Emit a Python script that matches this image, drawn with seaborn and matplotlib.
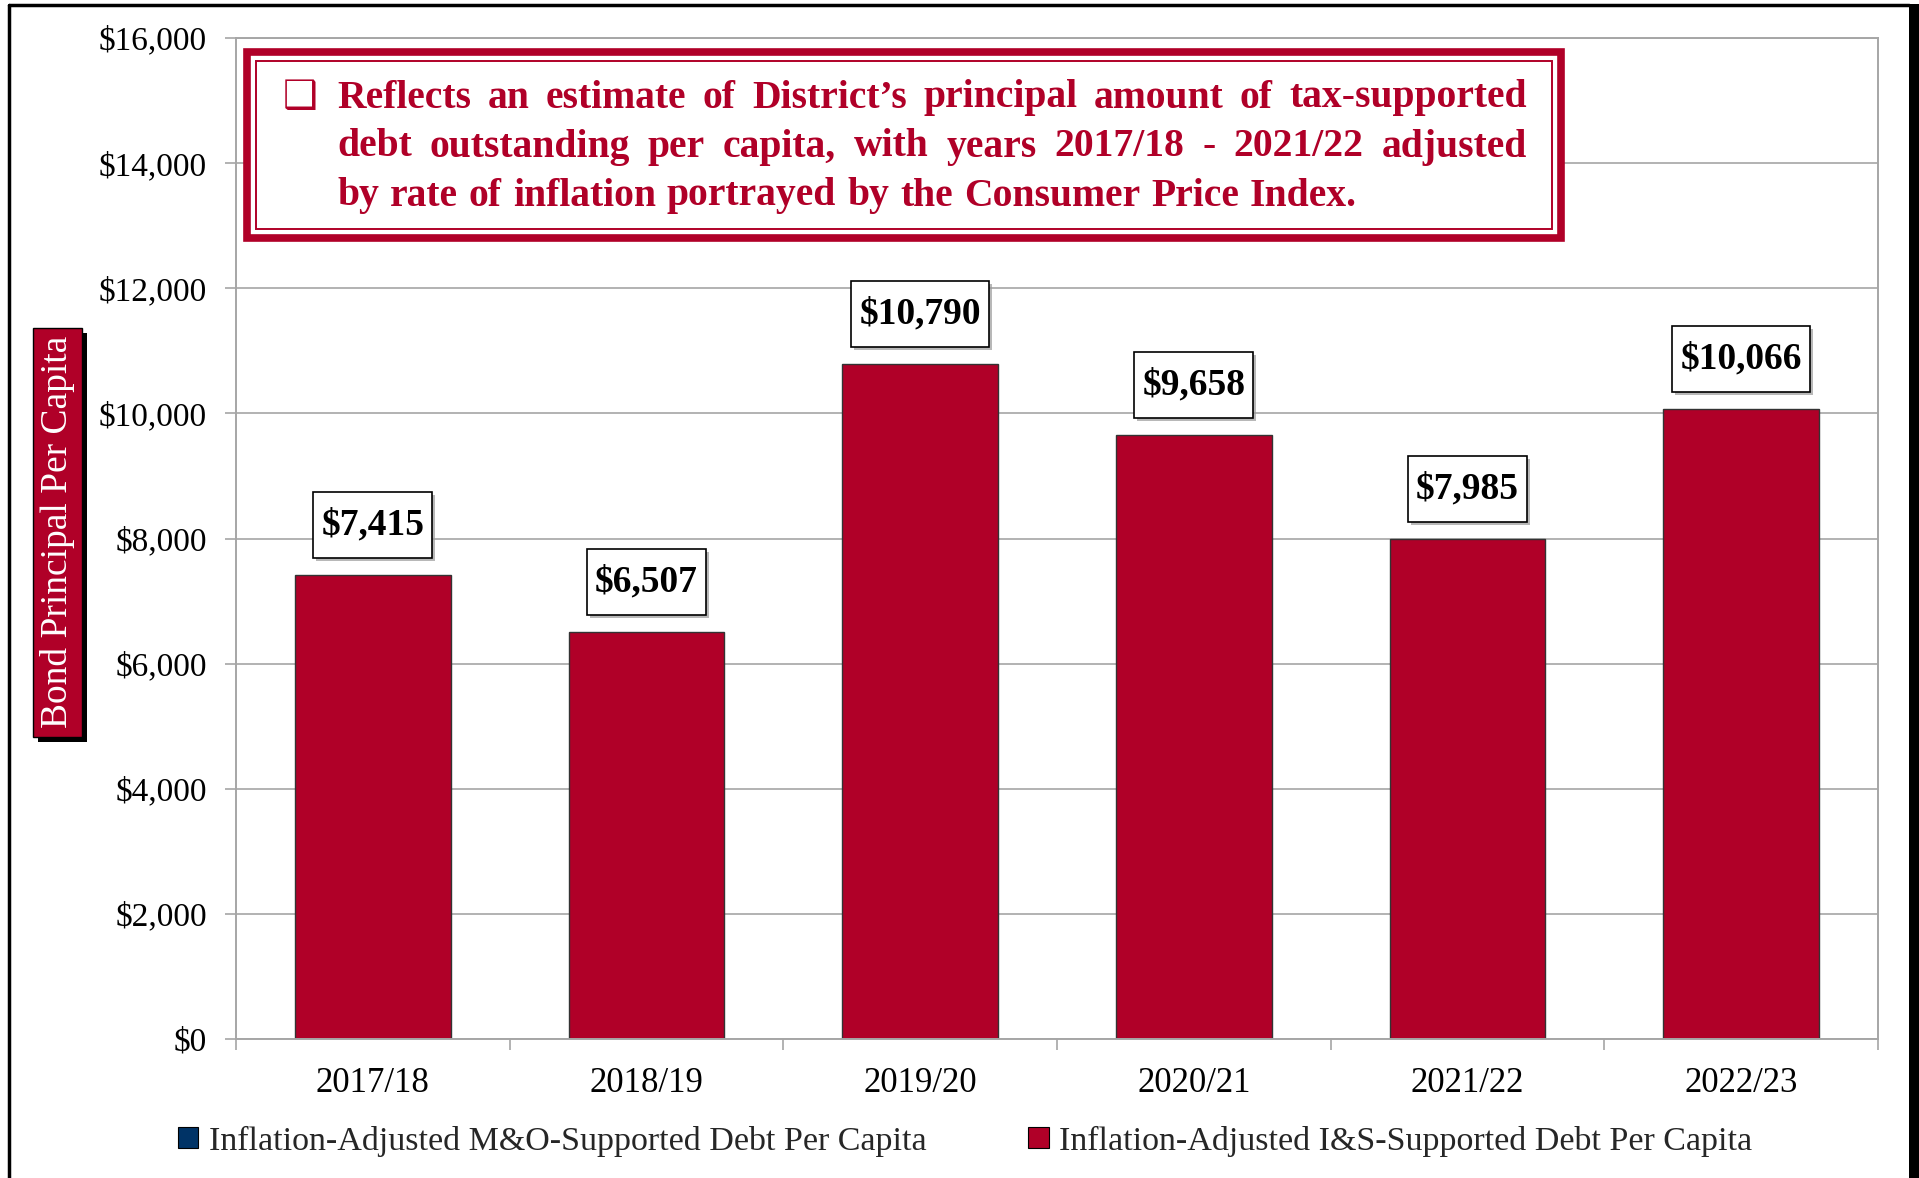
import pandas as pd
import matplotlib.pyplot as plt
import seaborn as sns
from matplotlib.patches import Rectangle, Patch
from matplotlib.lines import Line2D
from matplotlib.ticker import FuncFormatter

# data
years = ["2017/18", "2018/19", "2019/20", "2020/21", "2021/22", "2022/23"]
is_debt = [7415, 6507, 10790, 9658, 7985, 10066]
mo_debt = [0, 0, 0, 0, 0, 0]
series_names = ["Inflation-Adjusted M&O-Supported Debt Per Capita",
                "Inflation-Adjusted I&S-Supported Debt Per Capita"]
note_lines = [
    "Reflects an estimate of District\u2019s principal amount of tax-supported",
    "debt outstanding per capita, with years 2017/18 - 2021/22 adjusted",
    "by rate of inflation portrayed by the Consumer Price Index.",
]
ylabel = "Bond Principal Per Capita"

RED = "#B00028"
NAVY = "#003366"
GRID = "#A6A6A6"

df = pd.DataFrame({"year": years, "is_debt": is_debt, "mo_debt": mo_debt})

sns.set_style("white")
plt.rcParams["font.family"] = ["Liberation Serif", "DejaVu Sans"]

W, H = 1919, 1178
fig = plt.figure(figsize=(W / 100, H / 100), dpi=100)


def fx(px):
    return px / W


def fy(py):
    return 1 - py / H


ax = fig.add_axes([fx(236), fy(1039), fx(1878) - fx(236), fy(38) - fy(1039)])

sns.barplot(data=df, x="year", y="is_debt", color=RED, saturation=1,
            width=0.57, edgecolor="#333333", linewidth=1.0, ax=ax)

ax.set_ylim(0, 16000)
ax.set_xlim(-0.5, len(years) - 0.5)
ax.set_yticks(range(0, 16001, 2000))
ax.yaxis.set_major_formatter(FuncFormatter(lambda v, p: f"${v:,.0f}"))
ax.set_xlabel("")
ax.set_ylabel("")
ax.grid(axis="y", color=GRID, linewidth=1.2)
ax.set_axisbelow(True)
for s in ax.spines.values():
    s.set_color(GRID)
    s.set_linewidth(1.4)
ax.tick_params(axis="y", direction="out", length=8, width=1.2, color=GRID,
               pad=13, labelsize=24, labelcolor="black", left=True)
ax.set_xticks(range(len(years)))
ax.set_xticklabels(years)
ax.tick_params(axis="x", which="major", length=0, pad=20, labelsize=25,
               labelcolor="black")
ax.set_xticks([i - 0.5 for i in range(len(years) + 1)], minor=True)
ax.tick_params(axis="x", which="minor", direction="out", length=8,
               width=1.2, color=GRID, bottom=True)

renderer = fig.canvas.get_renderer()

# value labels in white boxes with a soft shadow
for i, v in enumerate(is_debt):
    t = ax.annotate(f"${v:,}", (i, v), xytext=(0, 50), textcoords="offset pixels",
                    ha="center", va="center", fontsize=27, fontweight="bold",
                    color="black", zorder=6)
    bb = t.get_window_extent(renderer)
    cx, cy = (bb.x0 + bb.x1) / 2, (bb.y0 + bb.y1) / 2
    bw, bh = bb.width + 16, 66
    fig.patches.append(Rectangle(((cx - bw / 2 + 3) / W, (cy - bh / 2 - 3) / H), bw / W, bh / H,
                                 transform=fig.transFigure, fc="#9A9A9A", ec="none",
                                 alpha=0.7, zorder=4))
    fig.patches.append(Rectangle(((cx - bw / 2) / W, (cy - bh / 2) / H), bw / W, bh / H,
                                 transform=fig.transFigure, fc="white", ec="black",
                                 lw=1.2, zorder=5))
    t.remove()
    fig.text(cx / W, cy / H, f"${v:,}", ha="center", va="center", fontsize=27,
             fontweight="bold", color="black", zorder=6)

# note box with double border
fig.patches.append(Rectangle((fx(247), fy(238)), fx(1561) - fx(247), fy(52) - fy(238),
                             transform=fig.transFigure, fill=True, fc="white",
                             ec=RED, lw=5.5, zorder=3))
fig.patches.append(Rectangle((fx(256), fy(229)), fx(1552) - fx(256), fy(61) - fy(229),
                             transform=fig.transFigure, fill=False,
                             ec=RED, lw=1.4, zorder=3))
fig.text(fx(283), fy(97), "\u2751", fontsize=28, color=RED, va="center",
         ha="left", family=["DejaVu Sans"], zorder=4)

x0, x1 = 337, 1527
line_y = [98, 147, 196]
for k, line in enumerate(note_lines):
    words = line.split(" ")
    texts = [fig.text(0, fy(line_y[k]), w, fontsize=28.5, fontweight="bold",
                      color=RED, va="center", ha="left", zorder=4) for w in words]
    widths = [t.get_window_extent(renderer).width for t in texts]
    if k < len(note_lines) - 1:
        gap = (x1 - x0 - sum(widths)) / (len(words) - 1)
    else:
        gap = 11
    x = x0
    for t, w in zip(texts, widths):
        t.set_x(fx(x))
        x += w + gap

# y-axis label box with shadow
fig.patches.append(Rectangle((fx(38), fy(742)), fx(87) - fx(38), fy(333) - fy(742),
                             transform=fig.transFigure, fc="black", ec="none", zorder=2))
fig.patches.append(Rectangle((fx(33), fy(737)), fx(82) - fx(33), fy(328) - fy(737),
                             transform=fig.transFigure, fc=RED, ec="black", lw=1, zorder=3))
fig.text(fx(57.5), fy(532), ylabel, rotation=90, color="white", fontsize=27,
         ha="center", va="center", zorder=4)

# legend
handles = [Patch(fc=NAVY, ec="black", lw=0.8), Patch(fc=RED, ec="black", lw=0.8)]
fig.legend(handles, series_names, loc="center", bbox_to_anchor=(fx(965), fy(1141)),
           ncol=2, frameon=False, fontsize=24.5, handlelength=0.6, handleheight=0.6,
           handletextpad=0.3, columnspacing=3.0)

# outer frame
fig.lines.append(Line2D([fx(9), fx(1909)], [fy(5), fy(5)], transform=fig.transFigure,
                        color="black", lw=2.5))
fig.lines.append(Line2D([fx(9), fx(9)], [fy(5), 0], transform=fig.transFigure,
                        color="black", lw=2.5))
fig.patches.append(Rectangle((fx(1909), 0), fx(1919) - fx(1909), fy(4),
                             transform=fig.transFigure, fc="black", ec="none"))

fig.savefig("out.png", dpi=100)
